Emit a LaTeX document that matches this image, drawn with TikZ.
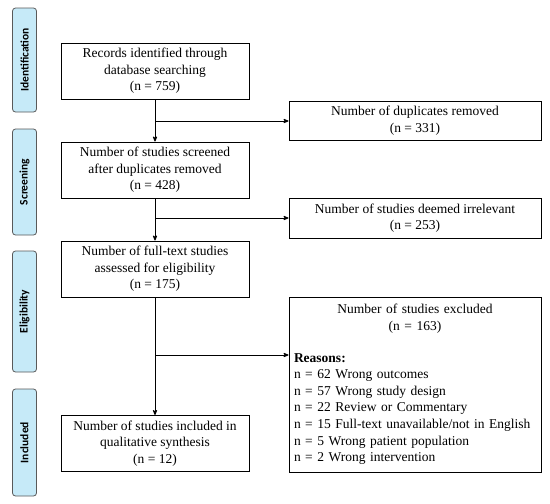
\documentclass[tikz,border=0pt]{standalone}
\usepackage{fontspec}
\setmainfont{Liberation Serif}
\newfontfamily\stagefont{Carlito}
\usepackage{tikz}
\usetikzlibrary{arrows}
\definecolor{stageblue}{HTML}{C6EAF8}

\begin{document}
\begin{tikzpicture}[x=1pt,y=-1pt,>=stealth',line width=0.8pt,
  flow node/.style={rectangle,draw,line width=0.9pt,inner sep=0pt,align=center,
    minimum width=188pt,minimum height=56pt,font=\fontsize{13.5}{16.6}\selectfont},
  side node/.style={flow node,minimum width=252pt,minimum height=39pt},
  stage node/.style={rectangle,rounded corners=3pt,draw=black!65,line width=0.8pt,
    fill=stageblue,minimum height=24pt,rotate=90,inner sep=0pt,
    font=\stagefont\bfseries\fontsize{11.5}{13}\selectfont}]

  \useasboundingbox (0,0) rectangle (550,504);

  % stages
  \node[stage node,minimum width=104pt] (ident) at (24.5,60)    {Identification};
  \node[stage node,minimum width=106pt] (screen) at (24.5,182)  {Screening};
  \node[stage node,minimum width=121pt] (elig) at (24.5,311.5)  {Eligibility};
  \node[stage node,minimum width=107pt] (incl) at (24.5,442.5)  {Included};

  % main column
  \node[flow node] (records)  at (155,71)    {Records identified through\\database searching\\(n = 759)};
  \node[flow node] (screened) at (155,170)   {Number of studies screened\\after duplicates removed\\(n = 428)};
  \node[flow node] (fulltext) at (155,269)   {Number of full-text studies\\assessed for eligibility\\(n = 175)};
  \node[flow node] (included) at (155,443.5) {Number of studies included in\\qualitative synthesis\\(n = 12)};

  % exclusions
  \node[side node] (duplicates) at (415,120.5) {Number of duplicates removed\\(n = 331)};
  \node[side node,minimum height=40pt] (irrelevant) at (415,218) {Number of studies deemed irrelevant\\(n = 253)};
  \node[side node,minimum height=175pt,text width=242pt,align=left] (excluded) at (415,384.5)
    {{\centering Number of studies excluded\\(n = 163)\par}\vspace{15pt}
     \textbf{Reasons:}\\
     n = 62 Wrong outcomes\\
     n = 57 Wrong study design\\
     n = 22 Review or Commentary\\
     n = 15 Full-text unavailable/not in English\\
     n = 5 Wrong patient population\\
     n = 2 Wrong intervention};

  \coordinate (split1) at (155,121);
  \coordinate (split2) at (155,218);
  \coordinate (split3) at (155,355);

  \draw[->] (records) -- (screened);
  \draw[->] (screened) -- (fulltext);
  \draw[->] (fulltext) -- (included);
  \draw[->] (split1) -- (split1 -| duplicates.west);
  \draw[->] (split2) -- (split2 -| irrelevant.west);
  \draw[->] (split3) -- (split3 -| excluded.west);
\end{tikzpicture}
\end{document}
